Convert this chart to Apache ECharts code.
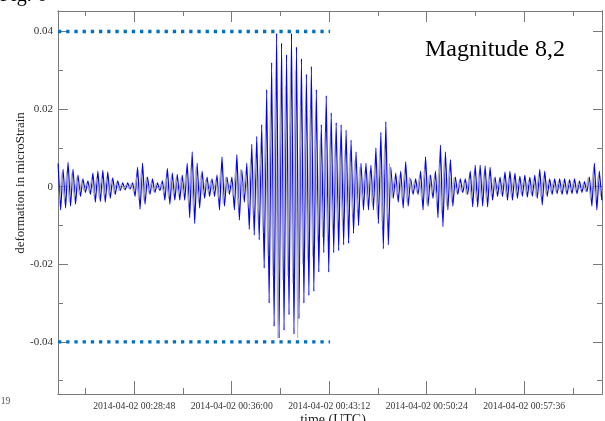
<!DOCTYPE html>
<html>
<head>
<meta charset="utf-8">
<script src="https://cdn.jsdelivr.net/npm/echarts@6/dist/echarts.min.js"></script>
<style>
html,body{margin:0;padding:0;background:#fff;}
#c{width:605px;height:421px;}
</style>
</head>
<body>
<div id="c"></div>
<script>
// ---- data (seconds since 2014-04-02 00:00:00 UTC, strain in 1e-3 microStrain) ----
const xMin = 1390.4, xMax = 3800.8;
const blueStart = 1391, blueStep = 11;
const grayStart = 1396.5, grayStep = 11;
const blueMilli = [
 6,-6,4.5,-5.5,6.3,-5,4.5,-4.5,3,-2.5,2,-1.5,1.5,-2,3.5,-4,4,-3.8,4.2,-4,
 3.8,-3,2.3,-2,1.5,-1,1,-0.8,1,-0.6,1,-2.5,5,-5.8,6,-4.5,2.5,-2,2,-1.5,
 1,-1,1.5,-3.5,4.7,-4.5,3.5,-3.5,3.2,-3.5,3,-3.5,6,-8,9,-9.5,6,-5.5,4,-3,
 2.5,-2.5,2,-2.5,3,-6,7.7,-5,2.5,-2,2.5,-6,8.3,-8.6,4.3,-4,6,-11,11,-12.5,
 13,-13.7,16,-21,25,-30,32,-36,39.5,-39,37,-37,34,-33,39.5,-38,36,-34,33,-30,
 29,-28,31,-27,25,-22,16,-17,23.5,-22,19,-17,16.5,-16.5,16,-15,14.6,-14.6,12,-12,
 9,-10,6,-6,6,-6,5.5,-6,10,-9.5,14,-16,16.8,-15,5,-3,3.5,-4,4,-5.5,
 6.4,-5,2,-2,2,-2,4,-6,7.7,-5,3,-3,4,-8,10.7,-10.3,9,-6,7,-5,
 2.5,-2,2,-1.5,2,-2,4,-5.2,5.5,-5.2,5.5,-5,5.3,-5.2,5,-3.5,2.5,-2.5,2.5,-2.5,
 3.8,-3.5,4,-3.5,3.5,-3,2.7,-2.5,3,-2.7,2.5,-2.5,3,-3,4.5,-4.7,4,-2.5,2,-2,
 2,-1.8,2,-2,2,-2,1.8,-1.8,2,-1.8,1.5,-1.5,1.3,-1.3,2.5,-5,6,-6,4,-3.5
];
const grayMilli = [
 -4,3.5,-3.5,4,-4,3.5,-3,2.5,-2,1.5,-1.2,1,-1.2,2,-2.5,2.5,-2.8,2.5,-2.5,2.5,
 -2.2,1.8,-1.5,1.2,-1,0.6,-0.6,0.6,-0.5,0.8,-1.5,2.5,-3.5,4,-3.5,2.5,-1.5,1.2,-1.2,0.8,
 -0.7,0.8,-1.5,2.5,-3,2.5,-2.3,2.2,-2.2,2.2,-2.2,3.5,-4.5,5.5,-6,5,-4,3,-2.2,1.8,
 -1.6,1.5,-1.5,1.8,-3,4.5,-4.5,2.5,-1.5,1.5,-2.5,4.5,-5.5,4.5,-2.8,3.5,-5.5,7,-7.5,8.5,
 -9,10,-12,15,-18,21,-23,28,-39,25,-24,26,-23,28,-25,30,-39,21,-20,19,
 -19,20,-18,17,-14,12,-13,14,-14,13,-11,11,-10.5,10,-10,9.5,-9,8.5,-7,7,
 -6,5,-4,4,-4,4,-4.5,5.5,-7,8,-10,11,-9,6,-3,2.5,-2.5,3,-3.5,4,
 -4,2.5,-1.3,1.3,-1.5,2.5,-3.5,4.5,-4.5,3,-2,2.5,-4,6,-7,7,-5,4.5,-4,2.5,
 -1.5,1.2,-1.2,1.2,-2,2.5,-3.5,3.5,-3.5,3.5,-3.5,3.5,-3.5,3,-2.5,2,-1.6,1.6,-2,2.2,
 -2.4,2.4,-2.4,2.2,-2,1.8,-1.8,1.8,-1.8,1.7,-1.8,1.9,-2.5,3,-3,2.8,-2,1.5,-1.3,1.3,
 -1.3,1.3,-1.3,1.3,-1.3,1.2,-1.2,1.2,-1.2,1.1,-1,0.9,-1.2,2.5,-3.5,4,-3.5,3,-2.5
];
const refLevel = 0.04;
const refEnd = 2596;
const xMajor = [1728, 2160, 2592, 3024, 3456];
const xMajorLabels = ['2014-04-02 00:28:48','2014-04-02 00:36:00','2014-04-02 00:43:12','2014-04-02 00:50:24','2014-04-02 00:57:36'];
const xMinor = [1512, 1944, 2376, 2808, 3240, 3672];
const yMin = -0.05343, yMax = 0.04528;
const yMajor = [-0.04, -0.02, 0, 0.02, 0.04];
const yMajorLabels = ['-0.04', '-0.02', '0', '0.02', '0.04'];
const yMinor = [-0.05, -0.03, -0.01, 0.01, 0.03];

// ---- build series data ----
const blueData = blueMilli.map((v, i) => [blueStart + i * blueStep, v * 0.001]);
const grayData = grayMilli.map((v, i) => [grayStart + i * grayStep, v * 0.001]);

const AX = '#7a7a7a';
const FONT = 'Liberation Serif';

function xAx(pos, ticks, len, labels) {
  return {
    type: 'value', min: xMin, max: xMax, position: pos, gridIndex: 0,
    axisLine: { show: true, onZero: false, lineStyle: { color: AX, width: 1 } },
    axisTick: { show: true, inside: true, length: len, customValues: ticks, lineStyle: { color: AX, width: 1 } },
    axisLabel: labels ? {
      show: true, customValues: ticks, margin: 7, fontFamily: FONT, fontSize: 9.7, color: '#333',
      formatter: v => { const k = xMajor.indexOf(Math.round(v)); return k >= 0 ? xMajorLabels[k] : ''; }
    } : { show: false },
    splitLine: { show: false }
  };
}
function yAx(pos, ticks, len, labels) {
  return {
    type: 'value', min: yMin, max: yMax, position: pos, gridIndex: 0,
    axisLine: { show: true, onZero: false, lineStyle: { color: AX, width: 1 } },
    axisTick: { show: true, inside: true, length: len, customValues: ticks, lineStyle: { color: AX, width: 1 } },
    axisLabel: labels ? {
      show: true, customValues: ticks, margin: 5, fontFamily: FONT, fontSize: 11, color: '#333',
      formatter: v => { let k = -1; yMajor.forEach((t, j) => { if (Math.abs(t - v) < 1e-6) k = j; }); return k >= 0 ? yMajorLabels[k] : ''; }
    } : { show: false },
    splitLine: { show: false }
  };
}

const chart = echarts.init(document.getElementById('c'), null, { renderer: 'canvas' });
chart.setOption({
  animation: false,
  backgroundColor: '#fff',
  grid: { left: 58, right: 3, top: 11, bottom: 27, containLabel: false },
  xAxis: [
    xAx('bottom', xMajor, 13, true),
    xAx('bottom', xMinor, 6, false),
    xAx('top', xMajor, 11, false),
    xAx('top', xMinor, 5, false)
  ],
  yAxis: [
    yAx('left', yMajor, 10, true),
    yAx('left', yMinor, 5, false),
    yAx('right', yMajor, 9, false),
    yAx('right', yMinor, 5, false)
  ],
  series: [
    { type: 'line', data: blueData, showSymbol: false, symbol: 'none', smooth: 0.15,
      lineStyle: { color: '#0000ff', width: 1.2 }, z: 2 },
    { type: 'line', data: grayData, showSymbol: false, symbol: 'none', smooth: 0.15,
      lineStyle: { color: '#aaaaaa', width: 1.2, opacity: 0.9 }, z: 3 },
    { type: 'line', data: [[xMin, refLevel], [refEnd, refLevel]], symbol: 'none',
      lineStyle: { color: '#0070c0', width: 3.3, type: [3.3, 4.9], cap: 'butt' }, z: 5 },
    { type: 'line', data: [[xMin, -refLevel], [refEnd, -refLevel]], symbol: 'none',
      lineStyle: { color: '#0070c0', width: 3.3, type: [3.3, 4.9], cap: 'butt' }, z: 5 }
  ],
  graphic: [
    { type: 'text', left: 0, top: -14, style: { text: 'Fig. 6', fontFamily: FONT, fontSize: 20, fill: '#000' } },
    { type: 'text', left: 425, top: 38, style: { text: 'Magnitude 8,2', fontFamily: FONT, fontSize: 24, fill: '#000' } },
    { type: 'text', x: 21, y: 183, rotation: Math.PI / 2,
      style: { text: 'deformation in microStrain', fontFamily: FONT, fontSize: 13, fill: '#222', align: 'center', verticalAlign: 'middle' } },
    { type: 'text', x: 333, y: 413, style: { text: 'time (UTC)', fontFamily: FONT, fontSize: 14, fill: '#222', align: 'center', verticalAlign: 'top' } },
    { type: 'text', x: -2, y: 396, style: { text: ':19', fontFamily: FONT, fontSize: 9.7, fill: '#555', verticalAlign: 'top' } }
  ]
});
</script>
</body>
</html>
